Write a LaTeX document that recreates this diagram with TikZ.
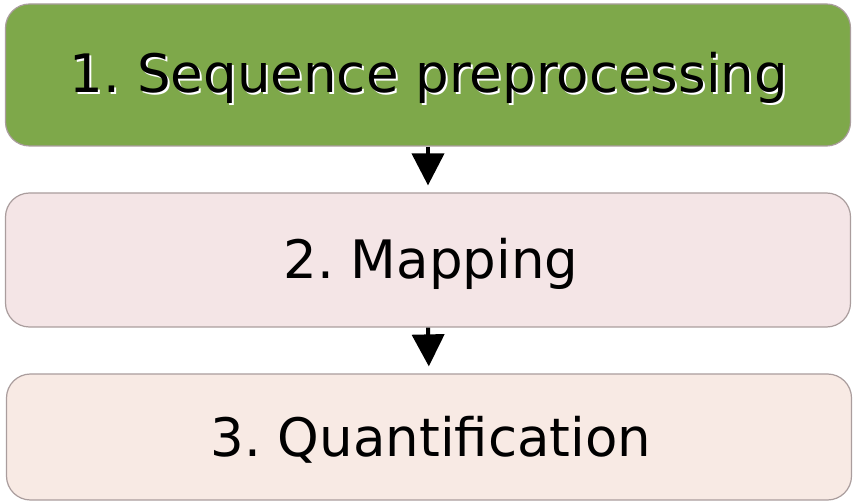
\documentclass[tikz,border=0pt]{standalone}
\usepackage{fontspec}
\setmainfont{DejaVu Sans}
\usetikzlibrary{arrows.meta}
\definecolor{stepgreen}{HTML}{7EA84A}
\definecolor{steppink}{HTML}{F4E5E6}
\definecolor{steppeach}{HTML}{F8EAE4}
\definecolor{stepedge}{HTML}{AA9D9D}
% text with a light drop shadow, set in one box
\newcommand{\shadowtext}[1]{\makebox[0pt][l]{\hspace{2pt}\raisebox{-2pt}{\color{white}#1}}#1}
\tikzset{
  x=1pt, y=-1pt,
  stagebox/.style={draw=stepedge, line width=1.2pt, rounded corners=24pt,
    minimum width=845pt, inner sep=0pt, font=\fontsize{53}{60}\selectfont\frenchspacing},
  flow/.style={-{Triangle[width=32pt,length=32pt]}, line width=4pt, black, shorten >=7pt},
}
\begin{document}
\begin{tikzpicture}
\useasboundingbox (0,0) rectangle (854,502);
\node[stagebox, fill=stepgreen, minimum height=142pt] (s1) at (428,75) {};
\node[font=\fontsize{53}{60}\selectfont\frenchspacing] (t1) at (429,79) {\shadowtext{1. Sequence preprocessing}};
\node[stagebox, fill=steppink, minimum height=134pt, text depth=0pt] (s2) at (428,260) {};
\node[font=\fontsize{53}{60}\selectfont\frenchspacing] (t2) at (431,264) {2. Mapping};
\node[stagebox, fill=steppeach, minimum height=126pt] (s3) at (429,437) {};
\node[font=\fontsize{53}{60}\selectfont\frenchspacing] (t3) at (431,440) {3. Quantification};
\draw[flow] (s1.south) -- (s2.north);
\draw[flow] (s2.south) -- (s3.north);
\end{tikzpicture}
\end{document}
